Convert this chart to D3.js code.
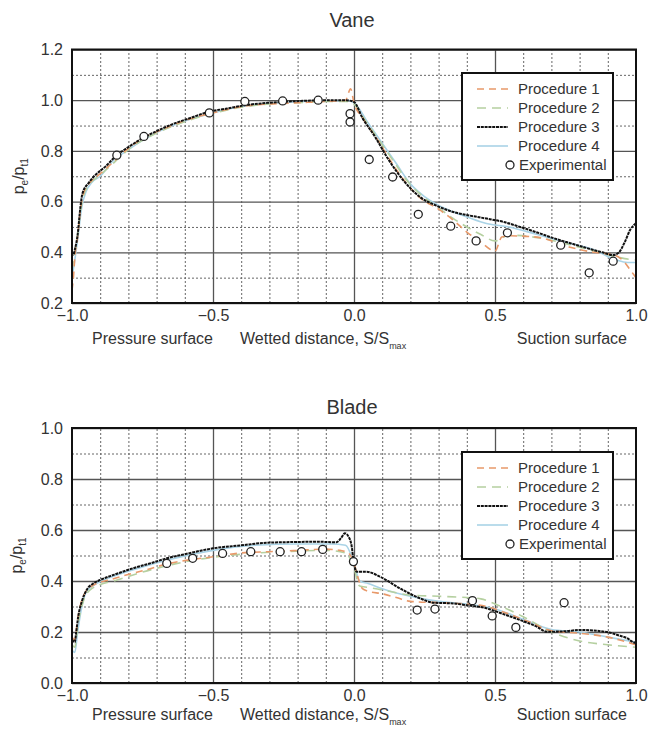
<!DOCTYPE html>
<html>
<head>
<meta charset="utf-8">
<script src="https://cdn.jsdelivr.net/npm/d3@7"></script>
<style>
  body { margin: 0; background: #fff; }
  text { font-family: "Liberation Sans", Arial, sans-serif; fill: #333; }
</style>
</head>
<body>
<div id="chart"></div>
<script>
// ---- data ----
var seriesNames = ["Procedure 1", "Procedure 2", "Procedure 3", "Procedure 4"];
var xTicks = [-1.0, -0.5, 0.0, 0.5, 1.0];
var vaneTicks = [0.2, 0.4, 0.6, 0.8, 1.0, 1.2];
var bladeTicks = [0.0, 0.2, 0.4, 0.6, 0.8, 1.0];

var vaneP1 = [[-1.0,0.25],[-0.995,0.30],[-0.99,0.38],[-0.98,0.46],[-0.97,0.57],[-0.96,0.63],[-0.94,0.67],[-0.90,0.71],[-0.85,0.76],[-0.80,0.81],[-0.75,0.85],[-0.70,0.875],[-0.60,0.92],[-0.50,0.95],[-0.40,0.975],[-0.30,0.985],[-0.20,0.99],[-0.10,0.995],[-0.03,1.0],[-0.012,1.045],[0.0,0.99],[0.03,0.93],[0.08,0.85],[0.13,0.76],[0.18,0.68],[0.24,0.61],[0.30,0.57],[0.352,0.527],[0.40,0.48],[0.45,0.44],[0.50,0.405],[0.524,0.46],[0.55,0.465],[0.648,0.46],[0.766,0.42],[0.85,0.40],[0.92,0.39],[0.96,0.36],[0.98,0.33],[1.0,0.30]];
var vaneP2 = [[-1.0,0.33],[-0.99,0.40],[-0.98,0.47],[-0.97,0.56],[-0.96,0.62],[-0.94,0.665],[-0.90,0.705],[-0.85,0.755],[-0.80,0.805],[-0.70,0.87],[-0.60,0.915],[-0.50,0.948],[-0.40,0.972],[-0.30,0.985],[-0.20,0.99],[-0.10,0.995],[-0.02,0.995],[0.0,0.985],[0.04,0.92],[0.09,0.84],[0.14,0.76],[0.19,0.68],[0.25,0.615],[0.30,0.575],[0.35,0.535],[0.40,0.50],[0.45,0.47],[0.50,0.445],[0.55,0.468],[0.65,0.458],[0.80,0.42],[0.92,0.385],[0.96,0.375],[1.0,0.37]];
var vaneP3 = [[-1.0,0.40],[-0.995,0.39],[-0.99,0.41],[-0.98,0.47],[-0.97,0.58],[-0.963,0.632],[-0.94,0.675],[-0.924,0.697],[-0.88,0.74],[-0.841,0.783],[-0.80,0.815],[-0.745,0.853],[-0.70,0.878],[-0.64,0.907],[-0.58,0.93],[-0.513,0.955],[-0.45,0.967],[-0.387,0.98],[-0.30,0.99],[-0.19,0.997],[-0.10,1.0],[-0.03,1.0],[0.0,0.993],[0.03,0.93],[0.075,0.855],[0.12,0.77],[0.175,0.684],[0.234,0.618],[0.29,0.585],[0.352,0.559],[0.41,0.545],[0.47,0.533],[0.53,0.52],[0.589,0.50],[0.65,0.478],[0.707,0.456],[0.77,0.435],[0.825,0.417],[0.88,0.40],[0.919,0.389],[0.94,0.40],[0.96,0.44],[0.98,0.49],[1.0,0.515]];
var vaneP4 = [[-1.0,0.30],[-0.99,0.37],[-0.98,0.45],[-0.965,0.58],[-0.95,0.64],[-0.93,0.675],[-0.90,0.70],[-0.85,0.765],[-0.80,0.805],[-0.70,0.872],[-0.60,0.918],[-0.50,0.95],[-0.40,0.975],[-0.30,0.988],[-0.20,0.994],[-0.10,0.998],[-0.02,0.998],[0.0,0.99],[0.05,0.91],[0.10,0.83],[0.15,0.75],[0.20,0.67],[0.25,0.62],[0.30,0.585],[0.35,0.56],[0.40,0.54],[0.47,0.514],[0.55,0.50],[0.65,0.47],[0.75,0.44],[0.85,0.41],[0.93,0.37],[0.97,0.36],[1.0,0.36]];
var vaneExp = [[-0.841,0.783],[-0.745,0.857],[-0.513,0.95],[-0.387,0.995],[-0.253,0.997],[-0.127,1.0],[-0.014,0.947],[-0.014,0.914],[0.054,0.766],[0.137,0.697],[0.228,0.55],[0.343,0.503],[0.433,0.445],[0.544,0.477],[0.733,0.428],[0.834,0.319],[0.919,0.365]];

var bladeP1 = [[-1.0,0.18],[-0.99,0.17],[-0.98,0.25],[-0.96,0.34],[-0.93,0.38],[-0.85,0.41],[-0.75,0.44],[-0.65,0.47],[-0.50,0.495],[-0.40,0.51],[-0.30,0.515],[-0.20,0.52],[-0.10,0.525],[-0.05,0.52],[-0.02,0.51],[0.0,0.47],[0.015,0.41],[0.03,0.37],[0.05,0.36],[0.10,0.35],[0.15,0.335],[0.20,0.32],[0.30,0.315],[0.40,0.31],[0.47,0.30],[0.55,0.27],[0.62,0.24],[0.70,0.205],[0.80,0.195],[0.90,0.18],[1.0,0.15]];
var bladeP2 = [[-1.0,0.15],[-0.99,0.14],[-0.98,0.22],[-0.96,0.32],[-0.93,0.37],[-0.84,0.404],[-0.70,0.45],[-0.55,0.485],[-0.40,0.505],[-0.25,0.515],[-0.10,0.52],[-0.03,0.51],[0.0,0.45],[0.02,0.38],[0.05,0.375],[0.10,0.365],[0.20,0.345],[0.30,0.34],[0.40,0.335],[0.45,0.33],[0.50,0.31],[0.60,0.26],[0.70,0.20],[0.80,0.165],[0.90,0.15],[1.0,0.14]];
var bladeP3 = [[-1.0,0.17],[-0.99,0.16],[-0.985,0.20],[-0.978,0.26],[-0.965,0.32],[-0.948,0.365],[-0.925,0.39],[-0.90,0.404],[-0.85,0.425],[-0.783,0.45],[-0.72,0.47],[-0.664,0.489],[-0.60,0.505],[-0.50,0.528],[-0.40,0.54],[-0.31,0.55],[-0.20,0.553],[-0.132,0.554],[-0.062,0.552],[-0.045,0.57],[-0.032,0.587],[-0.02,0.575],[-0.008,0.535],[-0.002,0.482],[0.01,0.436],[0.045,0.436],[0.092,0.417],[0.163,0.371],[0.234,0.332],[0.281,0.315],[0.352,0.312],[0.40,0.305],[0.47,0.293],[0.53,0.27],[0.589,0.247],[0.65,0.22],[0.683,0.201],[0.75,0.203],[0.801,0.208],[0.896,0.20],[0.943,0.185],[0.97,0.175],[0.99,0.16],[1.0,0.157]];
var bladeP4 = [[-1.0,0.13],[-0.99,0.12],[-0.98,0.20],[-0.965,0.30],[-0.95,0.355],[-0.92,0.385],[-0.85,0.42],[-0.75,0.455],[-0.65,0.485],[-0.50,0.52],[-0.35,0.54],[-0.20,0.545],[-0.08,0.545],[-0.03,0.54],[0.0,0.47],[0.02,0.40],[0.05,0.39],[0.10,0.37],[0.20,0.34],[0.30,0.32],[0.40,0.31],[0.50,0.29],[0.60,0.25],[0.70,0.21],[0.80,0.20],[0.90,0.18],[1.0,0.16]];
var bladeExp = [[-0.664,0.469],[-0.572,0.489],[-0.466,0.508],[-0.366,0.515],[-0.262,0.515],[-0.186,0.515],[-0.111,0.524],[-0.002,0.476],[0.224,0.286],[0.287,0.29],[0.42,0.323],[0.49,0.263],[0.574,0.218],[0.745,0.315]];

// ---- layout ----
var w = 649, h = 731;
var left = 72, right = 636;
var colors = ["#e8996a", "#b5d0a0", "#111111", "#a9d3e6"];
var dashes = ["7,5", "9,6", "3,0.8", null];
var widths = [1.6, 1.6, 2, 1.6];

var svg = d3.select("#chart").append("svg")
    .attr("width", w)
    .attr("height", h);

function drawPanel(opt) {
    var x = d3.scaleLinear().domain([-1, 1]).range([left, right]);
    var y = d3.scaleLinear().domain(opt.yDomain).range([opt.bottom, opt.top]);
    var g = svg.append("g");
    var pw = right - left, ph = opt.bottom - opt.top;

    // minor dotted grid
    var minorX = d3.range(-9, 10).map(function (d) { return d / 10; })
        .filter(function (d) { return Math.abs(d * 2 - Math.round(d * 2)) > 1e-6; });
    var minorY = d3.range(Math.round(opt.yDomain[0] * 10) + 1, Math.round(opt.yDomain[1] * 10), 2)
        .map(function (d) { return d / 10; });

    g.append("g")
        .attr("transform", "translate(0," + opt.bottom + ")")
        .call(d3.axisBottom(x).tickValues(minorX).tickSize(-ph).tickFormat(""))
        .call(function (s) {
            s.select(".domain").remove();
            s.selectAll("line").attr("stroke", "#666").attr("stroke-width", 1).attr("stroke-dasharray", "2,2");
        });
    g.append("g")
        .attr("transform", "translate(" + left + ",0)")
        .call(d3.axisLeft(y).tickValues(minorY).tickSize(-pw).tickFormat(""))
        .call(function (s) {
            s.select(".domain").remove();
            s.selectAll("line").attr("stroke", "#666").attr("stroke-width", 1).attr("stroke-dasharray", "2,2");
        });

    // major solid grid
    g.append("g")
        .attr("transform", "translate(0," + opt.bottom + ")")
        .call(d3.axisBottom(x).tickValues([-0.5, 0, 0.5]).tickSize(-ph).tickFormat(""))
        .call(function (s) {
            s.select(".domain").remove();
            s.selectAll("line").attr("stroke", "#555").attr("stroke-width", 1.3);
        });
    g.append("g")
        .attr("transform", "translate(" + left + ",0)")
        .call(d3.axisLeft(y).tickValues(opt.yTicks).tickSize(-pw).tickFormat(""))
        .call(function (s) {
            s.select(".domain").remove();
            s.selectAll("line").attr("stroke", "#555").attr("stroke-width", 1.3);
        });

    // tick labels
    g.append("g")
        .attr("transform", "translate(0," + opt.bottom + ")")
        .call(d3.axisBottom(x).tickValues(xTicks).tickSize(0).tickPadding(7).tickFormat(d3.format(".1f")))
        .call(function (s) {
            s.select(".domain").remove();
            s.selectAll("text").attr("font-size", 16).attr("fill", "#444")
                .attr("font-family", "Liberation Sans, Arial, sans-serif");
        });
    g.append("g")
        .attr("transform", "translate(" + left + ",0)")
        .call(d3.axisLeft(y).tickValues(opt.yTicks).tickSize(0).tickPadding(9).tickFormat(d3.format(".1f")))
        .call(function (s) {
            s.select(".domain").remove();
            s.selectAll("text").attr("font-size", 16).attr("fill", "#444")
                .attr("font-family", "Liberation Sans, Arial, sans-serif");
        });

    // curves
    var clipId = "clip-" + opt.name;
    svg.append("clipPath").attr("id", clipId)
        .append("rect").attr("x", left).attr("y", opt.top).attr("width", pw).attr("height", ph);

    var line = d3.line()
        .x(function (d) { return x(d[0]); })
        .y(function (d) { return y(d[1]); })
        .curve(d3.curveMonotoneX);

    var order = [3, 1, 0, 2];
    order.forEach(function (i) {
        g.append("path")
            .datum(opt.series[i])
            .attr("clip-path", "url(#" + clipId + ")")
            .attr("fill", "none")
            .attr("stroke", colors[i])
            .attr("stroke-width", widths[i])
            .attr("stroke-dasharray", dashes[i])
            .attr("d", line);
    });

    g.selectAll("circle.exp")
        .data(opt.exp)
        .enter().append("circle")
        .attr("class", "exp")
        .attr("cx", function (d) { return x(d[0]); })
        .attr("cy", function (d) { return y(d[1]); })
        .attr("r", 4)
        .attr("fill", "white")
        .attr("stroke", "#222")
        .attr("stroke-width", 1.3);

    // frame
    g.append("rect")
        .attr("x", left).attr("y", opt.top)
        .attr("width", pw).attr("height", ph)
        .attr("fill", "none").attr("stroke", "#111").attr("stroke-width", 2);

    // title
    g.append("text")
        .attr("x", (left + right) / 2 - 2).attr("y", opt.titleY)
        .attr("text-anchor", "middle").attr("font-size", 20).attr("fill", "#333")
        .text(opt.title);

    // y label
    var yl = g.append("text")
        .attr("transform", "translate(" + opt.ylabelX + "," + ((opt.top + opt.bottom) / 2) + ") rotate(-90)")
        .attr("text-anchor", "middle").attr("font-size", 16).attr("fill", "#444");
    yl.append("tspan").text("p");
    yl.append("tspan").attr("font-size", 10).attr("dy", 4).text("e");
    yl.append("tspan").attr("dy", -4).text("/p");
    yl.append("tspan").attr("font-size", 10).attr("dy", 4).text("t1");

    // x labels
    var by = opt.bottom + opt.xlabelOff;
    g.append("text").attr("x", 92).attr("y", by).attr("font-size", 16).attr("fill", "#444")
        .text("Pressure surface");
    var wl = g.append("text").attr("x", 240).attr("y", by).attr("font-size", 16).attr("fill", "#444");
    wl.append("tspan").text("Wetted distance, S/S");
    wl.append("tspan").attr("font-size", 9).attr("dy", 5).text("max");
    g.append("text").attr("x", 627).attr("y", by).attr("text-anchor", "end")
        .attr("font-size", 16).attr("fill", "#444").text("Suction surface");

    // legend
    var lx = 462, ly = opt.legendTop;
    var lg = g.append("g");
    lg.append("rect").attr("x", lx).attr("y", ly).attr("width", 151).attr("height", 107)
        .attr("fill", "white").attr("stroke", "#111").attr("stroke-width", 2);
    var rows = [21, 40, 59, 78];
    seriesNames.forEach(function (name, i) {
        lg.append("line")
            .attr("x1", lx + 15).attr("x2", lx + 46)
            .attr("y1", ly + rows[i] - 5).attr("y2", ly + rows[i] - 5)
            .attr("stroke", colors[i]).attr("stroke-width", widths[i])
            .attr("stroke-dasharray", dashes[i]);
        lg.append("text").attr("x", lx + 56).attr("y", ly + rows[i])
            .attr("font-size", 15).attr("fill", "#333").text(name);
    });
    lg.append("circle").attr("cx", lx + 48).attr("cy", ly + 92).attr("r", 4)
        .attr("fill", "white").attr("stroke", "#222").attr("stroke-width", 1.3);
    lg.append("text").attr("x", lx + 57).attr("y", ly + 97)
        .attr("font-size", 15).attr("fill", "#333").text("Experimental");
}

drawPanel({
    name: "vane", title: "Vane",
    top: 49.5, bottom: 303, yDomain: [0.2, 1.2], yTicks: vaneTicks,
    series: [vaneP1, vaneP2, vaneP3, vaneP4], exp: vaneExp,
    legendTop: 73, ylabelX: 24, xlabelOff: 41, titleY: 27
});

drawPanel({
    name: "blade", title: "Blade",
    top: 428, bottom: 683, yDomain: [0.0, 1.0], yTicks: bladeTicks,
    series: [bladeP1, bladeP2, bladeP3, bladeP4], exp: bladeExp,
    legendTop: 452, ylabelX: 22, xlabelOff: 37, titleY: 414
});
</script>
</body>
</html>
